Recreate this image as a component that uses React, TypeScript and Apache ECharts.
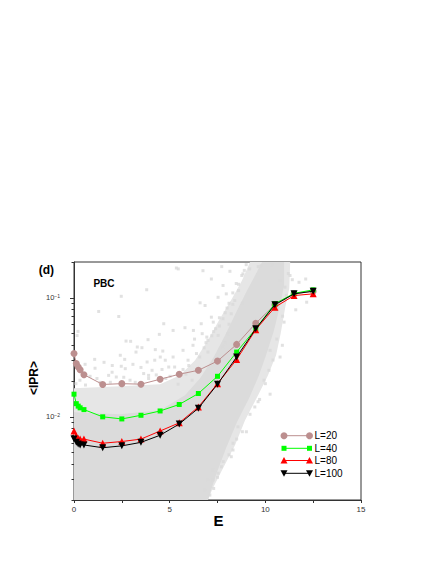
import React, { useEffect, useRef } from 'react';
import * as echarts from 'echarts';

// ---- data ----
const E_L = [0, 0.12, 0.22, 0.32, 0.52, 1.5, 2.5, 3.5, 4.5, 5.5, 6.5, 7.5, 8.5, 9.5, 10.5, 11.5, 12.5];
const IPR_L20 = [0.034, 0.028, 0.0262, 0.0249, 0.0226, 0.0187, 0.019, 0.0188, 0.0207, 0.0228, 0.0246, 0.0294, 0.0406, 0.0612, 0.0874, 0.108, 0.1136];
const IPR_L40 = [0.0155, 0.0129, 0.0123, 0.0119, 0.0115, 0.01, 0.0096, 0.0103, 0.0112, 0.0127, 0.0157, 0.0219, 0.035, 0.055, 0.0891, 0.109, 0.1167];
const IPR_L80 = [0.0076, 0.0069, 0.0066, 0.0065, 0.0065, 0.006, 0.0062, 0.0065, 0.0076, 0.0089, 0.0121, 0.019, 0.0303, 0.054, 0.0834, 0.1045, 0.108];
const IPR_L100 = [0.0065, 0.0061, 0.0059, 0.0058, 0.0058, 0.0055, 0.0057, 0.0061, 0.007, 0.0087, 0.0118, 0.0188, 0.0318, 0.055, 0.0874, 0.108, 0.1136];

// individual eigenstates (sparse part of the cloud)
const CLOUD_E = [2.47, 1.29, 2.34, 0.21, 0.16, 4.69, 4.46, 3.87, 2.72, 2.96, 3.31, 3.55, 4.25, 4.64, 1.08, 2.42, 2.65, 3.24, 3.82, 4.51, 4.22, 4.77, 2.47, 2.68, 1.81, 2.21, 3.64, 3.9, 4.08, 4.95,
  3.8, 5.45, 6.59, 6.85, 5.8, 6.24, 7.28, 6.94, 5.35, 6.74, 7.18, 7.79, 8.48, 8.83, 9.18, 9.79, 7.53, 7.96, 8.4, 5.18, 6.65, 7.18, 7.79, 8.22,
  5.18, 5.7, 6.22, 7.0, 7.53, 8.05, 5.26, 5.96, 6.57, 7.0, 7.79, 7.72, 8.15, 9.63, 10.33, 8.77, 11.29, 12.16, 10.77, 11.03, 10.25, 10.77, 12.11,
  11.59, 11.41, 11.76, 10.98, 10.89, 10.19, 9.93, 9.62, 9.01, 8.57, 8.31, 8.31, 8.22, 7.7, 7.53, 7.0, 6.83, 9.45, 10.25, 7.28, 7.28,
  0.31, 0.84, 1.36, 1.99, 2.93, 3.45, 4.5, 5.02, 1.1, 0.58, 1.57, 3.08, 5.44, 5.85, 6.17,
  7.3, 7.6, 8.0, 8.3, 8.6, 8.1, 6.3, 6.7, 7.9, 8.8,
  0.1, 0.6, 1.2, 1.9, 2.6, 3.2, 3.9, 4.3, 4.8, 0.4, 2.0, 3.5, 4.6,
  5.7, 6.0, 6.4, 6.8, 7.2, 7.4, 7.9, 8.1, 8.3, 8.6, 8.9, 9.0, 6.9, 7.6,
  11.2, 11.1, 10.9, 10.6, 10.4, 10.0, 9.7, 9.2, 8.8, 8.5, 8.1, 7.8, 7.5, 7.3, 7.1];
const CLOUD_IPR = [0.103, 0.0768, 0.0697, 0.0522, 0.0482, 0.0606, 0.0493, 0.0445, 0.0433, 0.0431, 0.0386, 0.0381, 0.0367, 0.0357, 0.0304, 0.0329, 0.0304, 0.035, 0.0289, 0.0318, 0.0299, 0.0299, 0.0266, 0.0254, 0.0223, 0.0216, 0.0231, 0.0223, 0.0246, 0.0262,
  0.117, 0.175, 0.0908, 0.0862, 0.0561, 0.0532, 0.0625, 0.0468, 0.178, 0.169, 0.144, 0.127, 0.132, 0.159, 0.175, 0.186, 0.101, 0.108, 0.0949, 0.0532, 0.0606, 0.0688, 0.0667, 0.0735,
  0.0318, 0.0362, 0.0399, 0.0439, 0.0483, 0.0499, 0.0262, 0.0299, 0.0318, 0.035, 0.0386, 0.183, 0.167, 0.183, 0.19, 0.154, 0.154, 0.0919, 0.14, 0.123, 0.0362, 0.0318, 0.144,
  0.0793, 0.142, 0.135, 0.0625, 0.0399, 0.0246, 0.0203, 0.0134, 0.00749, 0.00825, 0.00599, 0.00526, 0.00462, 0.00381, 0.00336, 0.00295, 0.00243, 0.0121, 0.0155, 0.00358, 0.00295,
  0.0203, 0.0219, 0.0195, 0.0237, 0.0203, 0.0188, 0.0203, 0.0219, 0.0256, 0.0276, 0.0287, 0.0276, 0.0188, 0.0228, 0.0203,
  0.052, 0.058, 0.082, 0.088, 0.115, 0.06, 0.045, 0.05, 0.042, 0.09,
  0.019, 0.0185, 0.021, 0.0195, 0.0215, 0.0195, 0.021, 0.0225, 0.021, 0.024, 0.027, 0.026, 0.025,
  0.025, 0.027, 0.034, 0.038, 0.048, 0.055, 0.075, 0.09, 0.11, 0.13, 0.17, 0.19, 0.042, 0.068,
  0.16, 0.105, 0.07, 0.045, 0.03, 0.019, 0.014, 0.0105, 0.0075, 0.0065, 0.0048, 0.0042, 0.0031, 0.0025, 0.0022];

// outline of the mottled (fairly dense) part of the cloud
const HALO_E = [0, 2.4, 4.5, 5.54, 6.33, 7.0, 7.63, 8.26, 8.78, 9.2, 11.3, 11.25, 11.05, 10.8, 10.56, 10.14, 9.62, 8.94, 8.42, 7.74, 7.21, 7.0, 0];
const HALO_IPR = [0.0174, 0.0181, 0.0188, 0.0223, 0.0299, 0.0439, 0.0671, 0.0986, 0.14, 0.2, 0.2, 0.12, 0.085, 0.05, 0.0329, 0.0223, 0.0152, 0.00938, 0.00579, 0.00358, 0.00243, 0.002, 0.002];
// outline of the saturated core of the cloud
const CORE_E = [0, 2.4, 4.5, 5.8, 6.59, 7.27, 7.89, 8.47, 8.99, 9.46, 9.83, 10.98, 10.98, 10.77, 10.45, 10.09, 9.67, 9.15, 8.52, 7.95, 7.42, 7.0, 0];
const CORE_IPR = [0.01095, 0.01053, 0.01138, 0.0152, 0.0211, 0.031, 0.0483, 0.0753, 0.111, 0.154, 0.2, 0.2, 0.127, 0.0862, 0.0532, 0.0348, 0.0223, 0.01434, 0.00903, 0.00547, 0.00325, 0.002, 0.002];

const X_LABELS = [0, 5, 10, 15];
const X_TICKS = [0, 2.5, 5, 7.5, 10, 12.5, 15];
const Y_MAJOR = [0.01, 0.1];
const Y_MINOR = [0.002, 0.003, 0.004, 0.005, 0.006, 0.007, 0.008, 0.009, 0.02, 0.03, 0.04, 0.05, 0.06, 0.07, 0.08, 0.09, 0.2];
const Y_MIN = 0.002;
const Y_MAX = 0.2;

const SERIES = [
  { name: 'L=20', values: IPR_L20, color: '#bc8f8f', symbol: 'circle', size: 7, rotate: 0 },
  { name: 'L=40', values: IPR_L40, color: '#00ff00', symbol: 'rect', size: 5, rotate: 0 },
  { name: 'L=80', values: IPR_L80, color: '#ff0000', symbol: 'triangle', size: 7, rotate: 0 },
  { name: 'L=100', values: IPR_L100, color: '#000000', symbol: 'triangle', size: 7, rotate: 180 },
];

const FONT = '"Liberation Sans", Arial, Helvetica, sans-serif';
const AX = '#333333';
const GRAY = '#d9d9d9';
const lg = (v: number) => Math.log10(v);

function polySeries(es: number[], ys: number[], fill: string, z: number) {
  return {
    type: 'custom',
    coordinateSystem: 'cartesian2d',
    silent: true,
    clip: true,
    z,
    data: es.map((e, i) => [e, lg(ys[i])]),
    renderItem: (params: any, api: any) => {
      if (params.dataIndex !== 0) return null;
      const pts = es.map((e, i) => api.coord([e, lg(ys[i])]));
      return { type: 'polygon', shape: { points: pts }, style: { fill, stroke: null } };
    },
  };
}

function legendGraphics() {
  const rows = [435.7, 448.3, 460.5, 473.3];
  const x1 = 284, x2 = 309.5;
  const out: any[] = [];
  SERIES.forEach((s, i) => {
    const y = rows[i];
    const children: any[] = [
      { type: 'line', shape: { x1, y1: y, x2, y2: y }, style: { stroke: s.color, lineWidth: 1 } },
    ];
    [x1, x2].forEach((cx) => {
      if (s.symbol === 'circle') children.push({ type: 'circle', shape: { cx, cy: y, r: 3.5 }, style: { fill: s.color } });
      else if (s.symbol === 'rect') children.push({ type: 'rect', shape: { x: cx - 2.5, y: y - 2.5, width: 5, height: 5 }, style: { fill: s.color } });
      else if (s.rotate === 0) children.push({ type: 'polygon', shape: { points: [[cx - 3.5, y + 3], [cx + 3.5, y + 3], [cx, y - 3.5]] }, style: { fill: s.color } });
      else children.push({ type: 'polygon', shape: { points: [[cx - 3.5, y - 3], [cx + 3.5, y - 3], [cx, y + 3.5]] }, style: { fill: s.color } });
    });
    children.push({ type: 'text', x: 314.5, y, style: { text: s.name, fontSize: 10, fontFamily: FONT, fill: '#000', verticalAlign: 'middle', align: 'left' } });
    out.push({ type: 'group', children });
  });
  return out;
}

export default function App() {
  const ref = useRef<HTMLDivElement>(null);
  useEffect(() => {
    const chart = echarts.init(ref.current!, null, { renderer: 'svg' });
    const option: any = {
      animation: false,
      backgroundColor: '#ffffff',
      grid: { left: 74, top: 262, width: 287, height: 238, show: true, borderColor: AX, borderWidth: 1, containLabel: false },
      xAxis: {
        type: 'value', min: 0, max: 15,
        axisLine: { show: true, lineStyle: { color: AX, width: 1 } },
        axisTick: { show: true, length: 3, lineStyle: { color: AX }, customValues: X_TICKS },
        axisLabel: { show: true, customValues: X_LABELS, fontSize: 8, color: AX, fontFamily: FONT, margin: 5 },
        splitLine: { show: false },
      },
      yAxis: [
        {
          type: 'value', min: lg(Y_MIN), max: lg(Y_MAX), position: 'left',
          axisLine: { show: true, lineStyle: { color: AX, width: 1 } },
          axisTick: { show: true, length: 4, lineStyle: { color: AX }, customValues: Y_MAJOR.map(lg) },
          axisLabel: {
            show: true, customValues: Y_MAJOR.map(lg), margin: 14, color: AX, fontFamily: FONT,
            formatter: (v: number) => `{b|10}{s|−${Math.abs(Math.round(v))}}`,
            rich: {
              b: { fontSize: 7.5, color: AX, fontFamily: FONT },
              s: { fontSize: 5, color: AX, fontFamily: FONT, verticalAlign: 'top', padding: [0, 0, 4, 0] },
            },
          },
          splitLine: { show: false },
        },
        {
          type: 'value', min: lg(Y_MIN), max: lg(Y_MAX), position: 'left',
          axisLine: { show: false },
          axisTick: { show: true, length: 2.5, lineStyle: { color: AX }, customValues: Y_MINOR.map(lg) },
          axisLabel: { show: false },
          splitLine: { show: false },
        },
      ],
      series: [
        polySeries(HALO_E, HALO_IPR, '#e6e6e6', 1),
        polySeries(CORE_E, CORE_IPR, '#dbdbdb', 2),
        {
          type: 'scatter', silent: true, z: 3,
          symbol: 'rect', symbolSize: 3,
          itemStyle: { color: GRAY },
          data: CLOUD_E.map((e, i) => [e, lg(CLOUD_IPR[i])]),
        },
        ...SERIES.map((s, k) => ({
          type: 'line', name: s.name, z: 10 + k,
          data: E_L.map((e, i) => [e, lg(s.values[i])]),
          symbol: s.symbol, symbolSize: s.size, symbolRotate: s.rotate,
          showSymbol: true,
          lineStyle: { color: s.color, width: 1 },
          itemStyle: { color: s.color },
        })),
      ],
      graphic: [
        { type: 'text', x: 46.3, y: 270, style: { text: '(d)', fontSize: 12, fontWeight: 'bold', fontFamily: FONT, fill: '#000', align: 'center', verticalAlign: 'middle' } },
        { type: 'text', x: 104, y: 283.3, style: { text: 'PBC', fontSize: 10, fontWeight: 'bold', fontFamily: FONT, fill: '#000', align: 'center', verticalAlign: 'middle' } },
        { type: 'text', x: 218.5, y: 520.5, style: { text: 'E', fontSize: 15, fontWeight: 'bold', fontFamily: FONT, fill: '#000', align: 'center', verticalAlign: 'middle' } },
        { type: 'text', x: 33.5, y: 378, rotation: Math.PI / 2, style: { text: '<IPR>', fontSize: 12, fontWeight: 'bold', fontFamily: FONT, fill: '#000', align: 'center', verticalAlign: 'middle' } },
        ...legendGraphics(),
      ],
    };
    chart.setOption(option);
    return () => chart.dispose();
  }, []);
  return <div ref={ref} style={{ position: 'fixed', left: 0, top: 0, width: 436, height: 564, background: '#fff' }} />;
}
